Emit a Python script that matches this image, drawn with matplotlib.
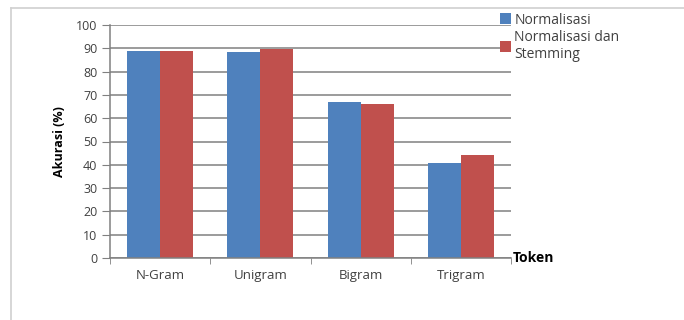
import numpy as np
import matplotlib
matplotlib.use("Agg")
import matplotlib.pyplot as plt
from matplotlib.patches import Patch
from matplotlib.lines import Line2D

# data
categories = ["N-Gram", "Unigram", "Bigram", "Trigram"]
normalisasi = [88.7, 88.3, 66.8, 40.6]
normalisasi_stemming = [88.7, 89.6, 66.2, 44.2]
series_names = ["Normalisasi", "Normalisasi dan\nStemming"]
y_ticks = list(range(0, 101, 10))

plt.rcParams["font.family"] = ["Open Sans", "DejaVu Sans"]

W, H = 684, 320
fig = plt.figure(figsize=(W / 100, H / 100), dpi=100)
ax = fig.add_axes([110 / W, (H - 258) / H, (511 - 110) / W, (258 - 25) / H])

blue = "#4F81BD"
red = "#C0504D"
grid_col = "#808080"
txt_col = "#404040"

x = np.arange(len(categories))
bw = 0.33
ax.bar(x - bw / 2, normalisasi, bw, color=blue, zorder=3)
ax.bar(x + bw / 2, normalisasi_stemming, bw, color=red, zorder=3)

ax.set_xlim(-0.5, len(categories) - 0.5)
ax.set_ylim(0, 100)
ax.set_yticks(y_ticks)
ax.set_xticks(x)
ax.set_xticklabels(categories, fontsize=9.5, color=txt_col)
ax.set_xticks(np.arange(-0.5, len(categories)), minor=True)
ax.tick_params(axis="x", which="major", length=0, pad=8)
ax.tick_params(axis="x", which="minor", length=4, color=grid_col, direction="out")
ax.tick_params(axis="y", length=6, color=grid_col, labelsize=9, labelcolor=txt_col, pad=3)

ax.yaxis.grid(True, color=grid_col, linewidth=1.1, zorder=0)
for s in ["top", "right"]:
    ax.spines[s].set_visible(False)
for s in ["left", "bottom"]:
    ax.spines[s].set_color(grid_col)
    ax.spines[s].set_linewidth(1.1)
    ax.spines[s].set_zorder(4)

ax.set_ylabel("Akurasi (%)", fontsize=9, fontweight="bold", labelpad=7)
fig.text(513 / W, 1 - 258 / H, "Token", fontsize=10, fontweight="bold",
         ha="left", va="center")

handles = [Patch(facecolor=blue), Patch(facecolor=red)]
fig.legend(handles, series_names, loc="upper left",
           bbox_to_anchor=(494 / W, 1 - 7 / H), frameon=False,
           fontsize=10, handlelength=0.8, handleheight=0.8,
           handletextpad=0.25, labelspacing=0.15, borderaxespad=0,
           labelcolor=txt_col)

# outer chart frame
fig.add_artist(Line2D([11 / W, 11 / W], [0, 1 - 8 / H], color="#d0d0d0", lw=1.2))
fig.add_artist(Line2D([11 / W, 1], [1 - 8 / H, 1 - 8 / H], color="#d0d0d0", lw=1.2))

fig.savefig("out.png", dpi=100)
